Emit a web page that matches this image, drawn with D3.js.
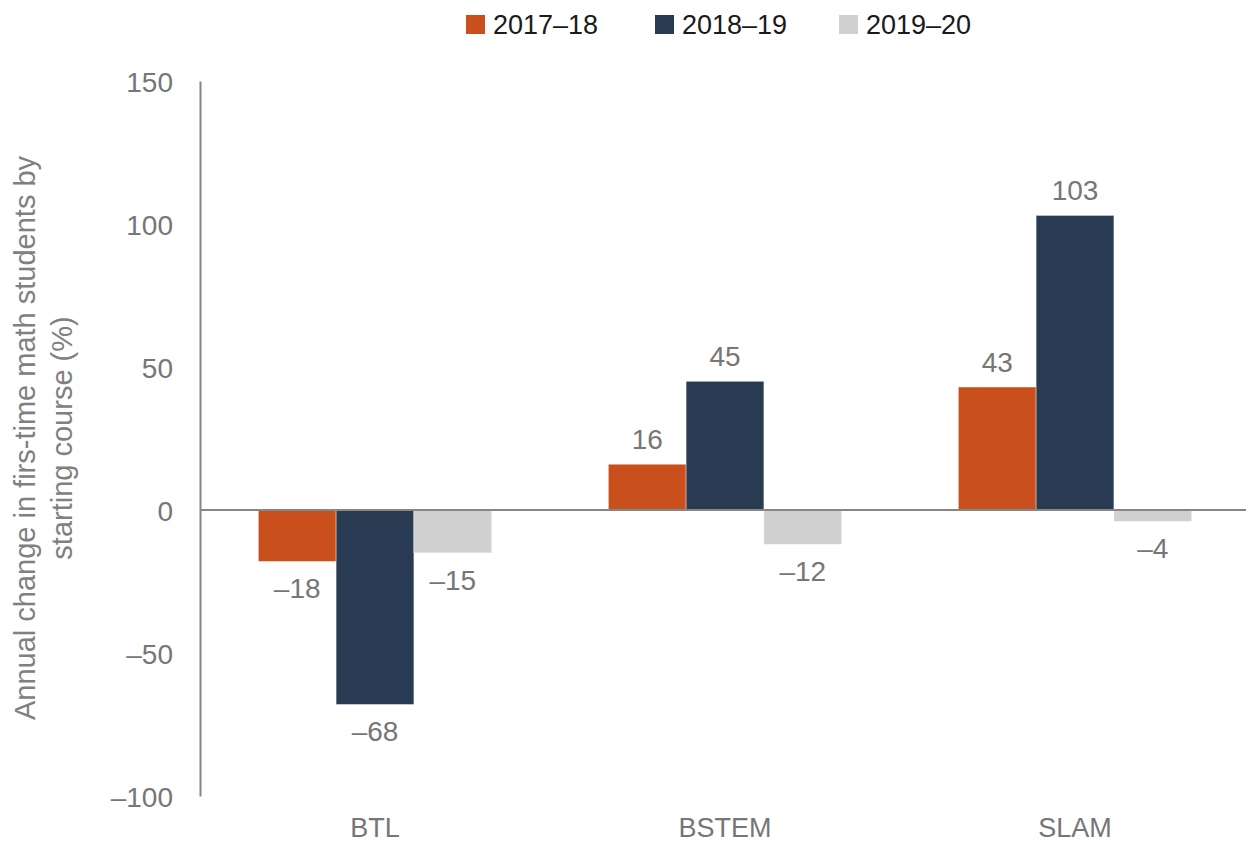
<!DOCTYPE html>
<html>
	<head>
		<meta charset="utf-8"/>
		<title>Annual change in first-time math students</title>
		<script src="https://d3js.org/d3.v7.min.js"></script>
	</head>
	<style>
	body{
		margin:0;
		background:#fff;
	}
	#well text{
		font-family:"Liberation Sans", Arial, sans-serif;
	}
	</style>
	<body>
	<div id='well'></div>
	<script>
		var courses = ['BTL', 'BSTEM', 'SLAM'];
		var years = ['2017\u201318', '2018\u201319', '2019\u201320'];
		var change1718 = [-18, 16, 43];
		var change1819 = [-68, 45, 103];
		var change1920 = [-15, -12, -4];
		var yTicks = [-100, -50, 0, 50, 100, 150];
		var colors = ['#c9501c', '#293a53', '#d0d0d0'];

		var series = [change1718, change1819, change1920];
		var rows = [];
		courses.forEach(function(c, i){
			years.forEach(function(yr, j){
				rows.push({course: c, year: yr, value: series[j][i], k: j});
			});
		});

		var width = 1246, height = 844;
		var textGray = '#767676';
		var dash = function(v){ return v < 0 ? '\u2013' + Math.abs(v) : String(v); };

		var svg = d3.select('#well')
			.append('svg')
			.attr('width', width)
			.attr('height', height);

		var x0 = d3.scaleBand()
			.domain(courses)
			.range([200, 1250])
			.padding(0);

		var x1 = d3.scaleBand()
			.domain(years)
			.range([0, x0.bandwidth()])
			.paddingInner(0)
			.paddingOuter(0.75);

		var y = d3.scaleLinear()
			.domain([-100, 150])
			.range([796, 81]);

		// y axis: line plus labels, no ticks
		var yAxis = d3.axisLeft(y)
			.tickValues(yTicks)
			.tickSize(0)
			.tickPadding(27)
			.tickFormat(dash);

		var gy = svg.append('g')
			.attr('transform', 'translate(200,0)')
			.call(yAxis);
		gy.select('.domain').attr('stroke', '#868686').attr('stroke-width', 2);
		gy.selectAll('text')
			.attr('fill', textGray)
			.attr('font-size', 28)
			.attr('dy', '0.36em');

		// bars
		svg.append('g').selectAll('rect')
			.data(rows)
			.enter().append('rect')
			.attr('x', function(d){ return x0(d.course) + x1(d.year); })
			.attr('width', x1.bandwidth())
			.attr('y', function(d){ return y(Math.max(0, d.value)); })
			.attr('height', function(d){ return Math.abs(y(d.value) - y(0)); })
			.attr('fill', function(d){ return colors[d.k]; })
			.attr('stroke', '#ffffff')
			.attr('stroke-opacity', 0.5)
			.attr('stroke-width', 0.8);

		// zero line
		svg.append('line')
			.attr('x1', 200)
			.attr('x2', 1250)
			.attr('y1', y(0))
			.attr('y2', y(0))
			.attr('stroke', '#868686')
			.attr('stroke-width', 2);

		// value labels
		svg.append('g').selectAll('text')
			.data(rows)
			.enter().append('text')
			.attr('x', function(d){ return x0(d.course) + x1(d.year) + x1.bandwidth() / 2; })
			.attr('y', function(d){ return d.value >= 0 ? y(d.value) - 15 : y(d.value) + 37; })
			.attr('text-anchor', 'middle')
			.attr('font-size', 28)
			.attr('fill', textGray)
			.text(function(d){ return dash(d.value); });

		// category labels
		svg.append('g').selectAll('text')
			.data(courses)
			.enter().append('text')
			.attr('x', function(d){ return x0(d) + x0.bandwidth() / 2; })
			.attr('y', 837)
			.attr('text-anchor', 'middle')
			.attr('font-size', 27)
			.attr('fill', textGray)
			.text(function(d){ return d; });

		// y title
		var title = svg.append('text')
			.attr('transform', 'translate(0,438) rotate(-90)')
			.attr('text-anchor', 'middle')
			.attr('font-size', 29)
			.attr('fill', '#808080');
		title.append('tspan').attr('x', 0).attr('y', 35).text('Annual change in firs-time math students by');
		title.append('tspan').attr('x', 0).attr('y', 72).text('starting course (%)');

		// legend
		var legendX = [466, 655, 839];
		var legend = svg.append('g').selectAll('g')
			.data(years)
			.enter().append('g')
			.attr('transform', function(d, i){ return 'translate(' + legendX[i] + ',15)'; });
		legend.append('rect')
			.attr('width', 19)
			.attr('height', 19)
			.attr('fill', function(d, i){ return colors[i]; });
		legend.append('text')
			.attr('x', 27)
			.attr('y', 19)
			.attr('font-size', 27)
			.attr('fill', '#1a1a1a')
			.text(function(d){ return d; });
	</script>
	</body>
</html>
